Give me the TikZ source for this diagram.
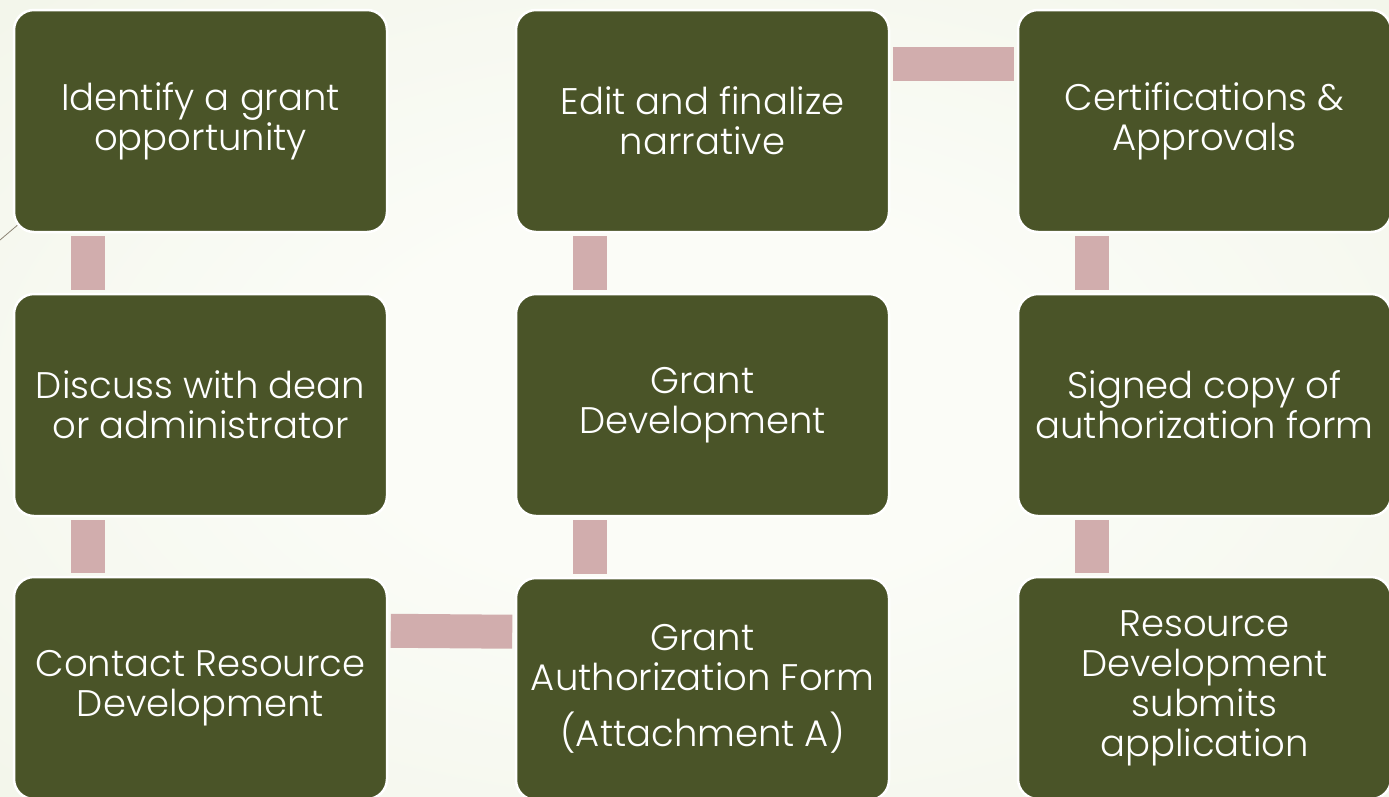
\documentclass[tikz,border=0pt]{standalone}
\usepackage{fontspec}
\setmainfont{Poppins}[UprightFont=* Light]
\definecolor{boxfill}{HTML}{4A5428}
\definecolor{linkfill}{HTML}{D1ADAD}
\definecolor{bgin}{HTML}{FBFCF7}
\definecolor{bgmid}{HTML}{EEF2E3}
\definecolor{bgout}{HTML}{E1E8CD}
\definecolor{rule}{HTML}{8C8474}
\pgfdeclareradialshading{pagebg}{\pgfpoint{0bp}{0bp}}{%
  color(0bp)=(bgin); color(12bp)=(bgin); color(50bp)=(bgmid); color(72bp)=(bgout)}
\tikzset{
  stepbox/.style={draw=white, line width=2.5pt, fill=boxfill, rounded corners=20pt,
    minimum width=373pt, minimum height=222pt, inner sep=0pt, text=white,
    align=center, font=\fontsize{37}{40}\selectfont},
  vlink/.style={draw=linkfill, line width=34pt, shorten <=3pt, shorten >=3pt},
  hlink/.style={draw=linkfill, line width=34pt, shorten <=2.5pt, shorten >=2.5pt}
}
\begin{document}
\begin{tikzpicture}[x=1pt, y=-1pt]
\useasboundingbox (0,0) rectangle (1389,796);
\shade[shading=pagebg] (0,0) rectangle (1389,796);
\draw[rule, line width=0.8pt] (0,240) -- (40,206);

% process steps, column by column
\node[stepbox] (s1) at (200.5,121) {Identify a grant\\opportunity};
\node[stepbox] (s2) at (200.5,405) {Discuss with dean\\or administrator};
\node[stepbox] (s3) at (200.5,688) {Contact Resource\\Development};
\node[stepbox] (s4) at (702.5,689) {Grant\\Authorization Form\\[16pt](Attachment A)};
\node[stepbox] (s5) at (702.5,405) {Grant\\Development};
\node[stepbox] (s6) at (702.5,121) {Edit and finalize\\narrative};
\node[stepbox] (s7) at (1204.5,121) {Certifications \&\\Approvals};
\node[stepbox] (s8) at (1204.5,405) {Signed copy of\\authorization form};
\node[stepbox] (s9) at (1204.5,688) {Resource\\Development\\submits\\application};

% connecting bars
\draw[vlink] ([xshift=75pt]s1.south west) -- ([xshift=75pt]s2.north west);
\draw[vlink] ([xshift=75pt]s2.south west) -- ([xshift=75pt]s3.north west);
\draw[hlink] ([yshift=-55pt]s3.north east) -- ([yshift=-55pt]s4.north west);
\draw[vlink] ([xshift=75pt]s4.north west) -- ([xshift=75pt]s5.south west);
\draw[vlink] ([xshift=75pt]s5.north west) -- ([xshift=75pt]s6.south west);
\draw[hlink] ([yshift=-55pt]s6.north east) -- ([yshift=-55pt]s7.north west);
\draw[vlink] ([xshift=75pt]s7.south west) -- ([xshift=75pt]s8.north west);
\draw[vlink] ([xshift=75pt]s8.south west) -- ([xshift=75pt]s9.north west);
\end{tikzpicture}
\end{document}
